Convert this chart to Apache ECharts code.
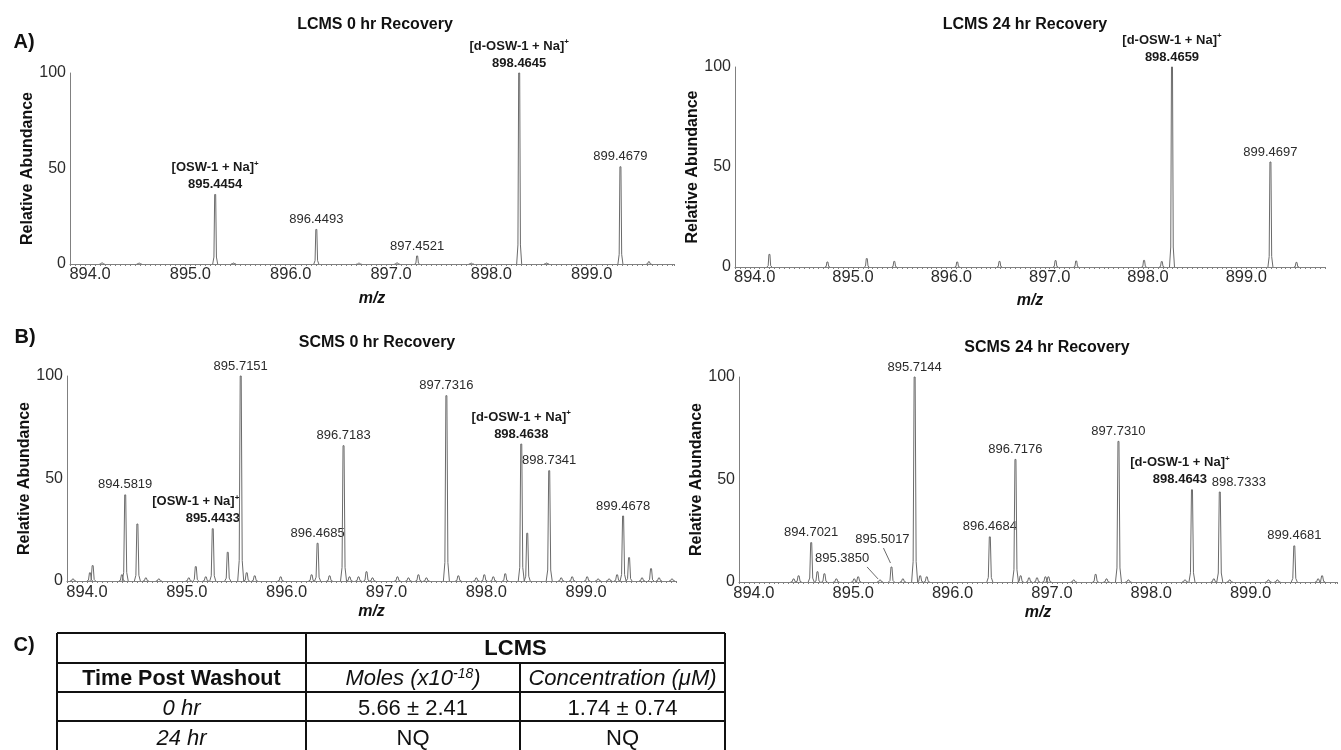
<!DOCTYPE html>
<html>
<head>
<meta charset="utf-8">
<title>OSW-1 recovery spectra</title>
<script src="https://cdn.jsdelivr.net/npm/echarts@6/dist/echarts.min.js"></script>
<style>
  html, body { margin: 0; padding: 0; background: #fff; }
  #chart { width: 1341px; height: 750px; }
</style>
</head>
<body>
<div id="chart"></div>
<script>
// peaks: [m/z (position on the drawn axis), relative abundance, peak label]
const lcms0Peaks = [
  [894.12, 0.6, ''], [894.49, 0.5, ''], [895.247, 36.4, '895.4454'], [895.43, 0.5, ''],
  [896.255, 18.1, '896.4493'], [896.68, 0.4, ''], [897.06, 0.6, ''], [897.26, 4.2, '897.4521'],
  [897.8, 0.4, ''], [898.277, 100, '898.4645'], [898.55, 0.5, ''], [899.286, 50.9, '899.4679'],
  [899.57, 1.2, '']
];
const lcms24Peaks = [
  [894.15, 6.3, ''], [894.74, 2.5, ''], [895.14, 4.2, ''], [895.42, 2.8, ''], [896.06, 2.5, ''],
  [896.49, 2.8, ''], [897.06, 3.2, ''], [897.27, 3.0, ''], [897.96, 3.3, ''], [898.14, 2.7, ''],
  [898.244, 100, '898.4659'], [899.245, 52.5, '899.4697'], [899.51, 2.3, '']
];
const scms0Peaks = [
  [893.86, 1, ''], [894.03, 4, ''], [894.057, 7.5, ''], [894.35, 3, ''], [894.383, 42, '894.5819'],
  [894.505, 27.8, ''], [894.59, 1.5, ''], [894.72, 1, ''], [895.02, 1.5, ''], [895.09, 7, ''],
  [895.19, 2, ''], [895.26, 25.5, '895.4433'], [895.41, 14, ''], [895.54, 100, '895.7151'],
  [895.6, 4, ''], [895.68, 2.5, ''], [895.94, 2, ''], [896.25, 3, ''], [896.31, 18.4, '896.4685'],
  [896.43, 2.5, ''], [896.57, 66, '896.7183'], [896.63, 2, ''], [896.72, 2, ''], [896.8, 4.5, ''],
  [896.86, 1.5, ''], [897.11, 2, ''], [897.22, 1.5, ''], [897.32, 3, ''], [897.4, 1.5, ''],
  [897.6, 90.4, '897.7316'], [897.72, 2.5, ''], [897.9, 1.5, ''], [897.98, 3, ''], [898.07, 2, ''],
  [898.19, 3.5, ''], [898.35, 66.8, '898.4638'], [898.41, 23.3, ''], [898.63, 53.8, '898.7341'],
  [898.75, 1.5, ''], [898.86, 2, ''], [899.01, 2, ''], [899.12, 1, ''], [899.23, 1, ''],
  [899.31, 3, ''], [899.37, 31.7, '899.4678'], [899.43, 11.4, ''], [899.56, 1.5, ''],
  [899.65, 6, ''], [899.73, 1.5, ''], [899.86, 1, '']
];
const scms24Peaks = [
  [894.4, 1.5, ''], [894.45, 3, ''], [894.577, 19.2, '894.7021'], [894.64, 5, ''], [894.71, 4, ''],
  [894.83, 1.5, ''], [895.01, 1.5, ''], [895.05, 2.5, ''], [895.27, 1, '895.3850'],
  [895.385, 7.3, '895.5017'], [895.5, 1.5, ''], [895.618, 100, '895.7144'], [895.674, 3, ''],
  [895.74, 2.5, ''], [896.375, 22, '896.4684'], [896.633, 59.8, '896.7176'], [896.685, 3, ''],
  [896.77, 2, ''], [896.85, 2, ''], [896.935, 2.5, ''], [896.965, 2.5, ''], [897.22, 1, ''],
  [897.44, 3.7, ''], [897.55, 1.5, ''], [897.67, 68.6, '897.7310'], [897.77, 1, ''],
  [898.34, 1, ''], [898.41, 45, '898.4643'], [898.63, 1.5, ''], [898.69, 43.9, '898.7333'],
  [898.79, 1, ''], [899.18, 1, ''], [899.27, 1, ''], [899.44, 17.6, '899.4681'],
  [899.68, 1.5, ''], [899.72, 3, '']
];

const panelTitles = ['LCMS 0 hr Recovery', 'LCMS 24 hr Recovery', 'SCMS 0 hr Recovery', 'SCMS 24 hr Recovery'];
const mzTicks = [894.0, 895.0, 896.0, 897.0, 898.0, 899.0];
const abundanceTicks = [0, 50, 100];
const ionNames = {
  '895.4454': '[OSW-1 + Na]', '898.4645': '[d-OSW-1 + Na]', '898.4659': '[d-OSW-1 + Na]',
  '895.4433': '[OSW-1 + Na]', '898.4638': '[d-OSW-1 + Na]', '898.4643': '[d-OSW-1 + Na]'
};

const tableGroupHead = 'LCMS';
const tableHead = ['Time Post Washout', 'Moles (x10{sup|-18})', 'Concentration (μM)'];
const tableRows = [
  ['0 hr', '5.66 ± 2.41', '1.74 ± 0.74'],
  ['24 hr', 'NQ', 'NQ']
];

const FONT = "'Liberation Sans', Arial, Helvetica, sans-serif";
const PEAK_COLOR = '#6b6b6b';
const AXIS_COLOR = '#808080';
const TEXT_COLOR = '#2b2b2b';

// where the labels sit relative to the peak top (a few are pushed aside in the original)
const labelTweaks = {
  '895.4433': { nameDx: -17 },
  '898.4643': { dx: -12 },
  '898.7333': { dx: 19 },
  '895.3850': { dx: -38, dy: -22, leader: [[-13, -13], [-2, -1]] },
  '895.5017': { dx: -9, dy: -28, leader: [[-8, -19], [-1, -4]] }
};

const panels = [
  { peaks: lcms0Peaks, grid: { left: 70, top: 73, width: 604, height: 191 }, xMin: 893.8, xMax: 899.82, nameGap: 27, margin: 2, title: [375, 25], hw: 2.5 },
  { peaks: lcms24Peaks, grid: { left: 735, top: 67, width: 590, height: 200 }, xMin: 893.8, xMax: 899.8, nameGap: 26, margin: 2, title: [1025, 25], hw: 2.5 },
  { peaks: scms0Peaks, grid: { left: 67, top: 376, width: 609, height: 205 }, xMin: 893.8, xMax: 899.9, nameGap: 23, margin: 3, title: [377, 343], hw: 3 },
  { peaks: scms24Peaks, grid: { left: 739, top: 377, width: 598, height: 205 }, xMin: 893.85, xMax: 899.87, nameGap: 23, margin: 3, title: [1047, 348], hw: 3 }
];

function makePeakRenderer(peaks, hw) {
  return function (params, api) {
    const label = peaks[params.dataIndex][2];
    const base = api.coord([api.value(0), 0]);
    const top = api.coord([api.value(0), api.value(1)]);
    const h = base[1] - top[1];
    const children = [{
      type: 'polyline',
      shape: {
        points: [
          [base[0] - hw, base[1]], [base[0] - hw * 0.5, base[1] - h * 0.1],
          [top[0] - 0.5, top[1]], [top[0] + 0.5, top[1]],
          [base[0] + hw * 0.5, base[1] - h * 0.1], [base[0] + hw, base[1]]
        ]
      },
      style: { stroke: PEAK_COLOR, lineWidth: 1, fill: null }
    }];
    if (label) {
      const tw = labelTweaks[label] || {};
      const lx = top[0] + (tw.dx || 0);
      const ly = top[1] + (tw.dy !== undefined ? tw.dy : -10);
      const isIon = !!ionNames[label];
      children.push({
        type: 'text',
        style: {
          x: lx, y: ly, text: label, align: 'center', verticalAlign: 'middle',
          fontFamily: FONT, fontSize: 13, fontWeight: isIon ? 'bold' : 'normal',
          fill: isIon ? '#1a1a1a' : TEXT_COLOR
        }
      });
      if (isIon) {
        children.push({
          type: 'text',
          style: {
            x: lx + (tw.nameDx || 0), y: ly - 17, text: '{n|' + ionNames[label] + '}{sup|+}',
            align: 'center', verticalAlign: 'middle',
            rich: {
              n: { fontFamily: FONT, fontSize: 13, fontWeight: 'bold', fill: '#1a1a1a', lineHeight: 16 },
              sup: { fontFamily: FONT, fontSize: 8, fontWeight: 'bold', fill: '#1a1a1a', verticalAlign: 'top', lineHeight: 16 }
            }
          }
        });
      }
      if (tw.leader) {
        children.push({
          type: 'line',
          shape: {
            x1: top[0] + tw.leader[0][0], y1: top[1] + tw.leader[0][1],
            x2: top[0] + tw.leader[1][0], y2: top[1] + tw.leader[1][1]
          },
          style: { stroke: PEAK_COLOR, lineWidth: 1 }
        });
      }
    }
    return { type: 'group', children: children };
  };
}

const graphics = [];
panels.forEach(function (p, k) {
  graphics.push({
    type: 'text', x: p.title[0], y: p.title[1],
    style: { text: panelTitles[k], align: 'center', verticalAlign: 'middle', fontFamily: FONT, fontSize: 16, fontWeight: 'bold', fill: '#111' }
  });
});
[['A)', 24, 42], ['B)', 25, 337], ['C)', 24, 645]].forEach(function (l) {
  graphics.push({
    type: 'text', x: l[1], y: l[2],
    style: { text: l[0], align: 'center', verticalAlign: 'middle', fontFamily: FONT, fontSize: 20, fontWeight: 'bold', fill: '#111' }
  });
});

// table C)
const tb = { left: 57, right: 725, col1: 306, col2: 520, rows: [633, 663, 692, 721, 752] };
function tline(x1, y1, x2, y2) {
  graphics.push({ type: 'line', shape: { x1: x1, y1: y1, x2: x2, y2: y2 }, style: { stroke: '#111', lineWidth: 2 } });
}
tb.rows.forEach(function (y) { tline(tb.left, y, tb.right, y); });
tline(tb.left, tb.rows[0], tb.left, tb.rows[4]);
tline(tb.right, tb.rows[0], tb.right, tb.rows[4]);
tline(tb.col1, tb.rows[0], tb.col1, tb.rows[4]);
tline(tb.col2, tb.rows[1], tb.col2, tb.rows[4]);
const colMid = [(tb.left + tb.col1) / 2, (tb.col1 + tb.col2) / 2, (tb.col2 + tb.right) / 2];
function ttext(x, y, text, size, weight, style) {
  graphics.push({
    type: 'text', x: x, y: y,
    style: {
      text: text, align: 'center', verticalAlign: 'middle', fill: '#111',
      fontFamily: FONT, fontSize: size, fontWeight: weight, fontStyle: style,
      rich: { sup: { fontFamily: FONT, fontSize: 14, fontStyle: 'italic', verticalAlign: 'top', lineHeight: 24 } }
    }
  });
}
ttext((tb.col1 + tb.right) / 2, (tb.rows[0] + tb.rows[1]) / 2 + 1, tableGroupHead, 22, 'bold', 'normal');
tableHead.forEach(function (t, i) {
  ttext(colMid[i], (tb.rows[1] + tb.rows[2]) / 2 + 1.5, t, i === 0 ? 21.5 : 22, i === 0 ? 'bold' : 'normal', i === 0 ? 'normal' : 'italic');
});
tableRows.forEach(function (row, r) {
  row.forEach(function (t, i) {
    ttext(colMid[i], (tb.rows[r + 2] + tb.rows[r + 3]) / 2 + 2, t, 22, 'normal', i === 0 ? 'italic' : 'normal');
  });
});

const myChart = echarts.init(document.getElementById('chart'), null, { renderer: 'canvas' });

const option = {
  animation: false,
  backgroundColor: '#fff',
  grid: panels.map(function (p) { return Object.assign({ containLabel: false }, p.grid); }),
  xAxis: panels.map(function (p, k) {
    return {
      type: 'value', gridIndex: k, min: p.xMin, max: p.xMax, interval: 0.05,
      name: 'm/z', nameLocation: 'middle', nameGap: p.nameGap,
      nameTextStyle: { fontFamily: FONT, fontSize: 16, fontWeight: 'bold', fontStyle: 'italic', color: '#111' },
      axisLine: { show: true, lineStyle: { color: AXIS_COLOR, width: 1 } },
      axisTick: { show: true, length: 2, lineStyle: { color: AXIS_COLOR } },
      axisLabel: {
        customValues: mzTicks, margin: p.margin, fontFamily: FONT, fontSize: 16.5, color: TEXT_COLOR,
        formatter: function (v) { return v.toFixed(1); }
      },
      splitLine: { show: false }
    };
  }),
  yAxis: panels.map(function (p, k) {
    return {
      type: 'value', gridIndex: k, min: 0, max: 100,
      name: 'Relative Abundance', nameLocation: 'middle', nameGap: 33,
      nameTextStyle: { fontFamily: FONT, fontSize: 16, fontWeight: 'bold', color: '#111' },
      axisLine: { show: true, lineStyle: { color: AXIS_COLOR, width: 1 } },
      axisTick: { show: false },
      axisLabel: { customValues: abundanceTicks, margin: 4, fontFamily: FONT, fontSize: 16, color: TEXT_COLOR },
      splitLine: { show: false }
    };
  }),
  series: panels.map(function (p, k) {
    return {
      type: 'custom', xAxisIndex: k, yAxisIndex: k, silent: true,
      data: p.peaks.map(function (d) { return [d[0], d[1]]; }),
      renderItem: makePeakRenderer(p.peaks, p.hw)
    };
  }),
  graphic: graphics
};

myChart.setOption(option);
</script>
</body>
</html>
